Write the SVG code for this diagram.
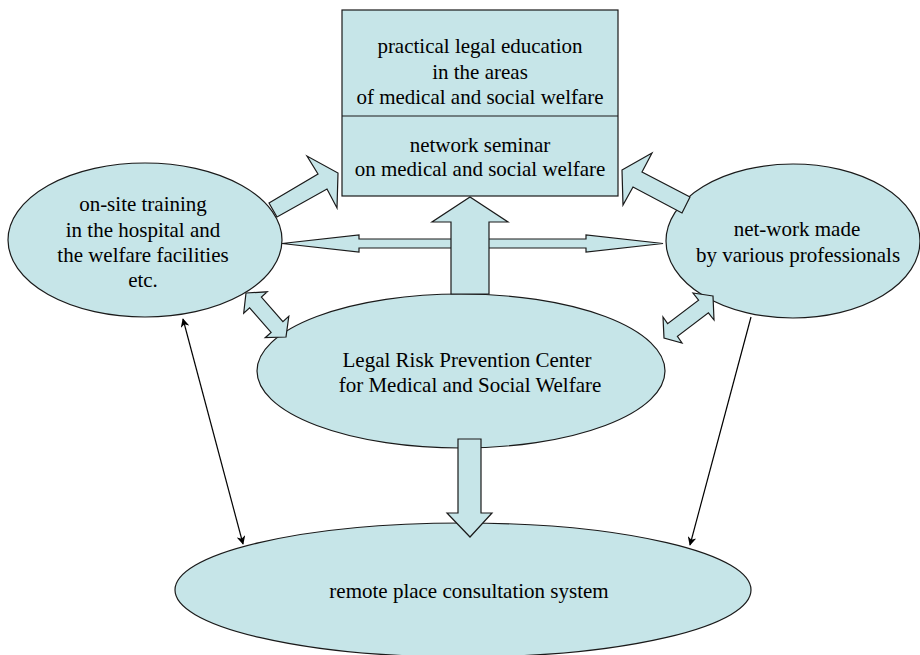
<svg xmlns="http://www.w3.org/2000/svg" width="920" height="655" viewBox="0 0 920 655">
<defs>
<style>
.shape{fill:#C6E5E8;stroke:#1a1a1a;stroke-width:1.2}
.txt{font-family:'Liberation Serif','Times New Roman','DejaVu Serif',serif;font-size:21px;fill:#000;text-anchor:middle}
.thin{fill:none;stroke:#000;stroke-width:1.2}
</style>
<marker id="ah" viewBox="0 0 10 10" refX="9" refY="5" markerWidth="9" markerHeight="9" markerUnits="userSpaceOnUse" orient="auto-start-reverse">
<path d="M0,0 L10,5 L0,10 L3,5 Z" fill="#000"/>
</marker>
</defs>
<rect width="920" height="655" fill="#fff"/>

<g id="node-bottom">
<ellipse class="shape" cx="463" cy="590" rx="288" ry="67"/>
<text class="txt" font-family="Liberation Serif, serif" x="469" y="598">remote place consultation system</text>
</g>

<g id="node-left">
<ellipse class="shape" cx="145" cy="240" rx="137" ry="77"/>
<text class="txt" font-family="Liberation Serif, serif" x="143" y="211">on-site training</text>
<text class="txt" font-family="Liberation Serif, serif" x="143" y="237">in the hospital and</text>
<text class="txt" font-family="Liberation Serif, serif" x="143" y="262">the welfare facilities</text>
<text class="txt" font-family="Liberation Serif, serif" x="143" y="287">etc.</text>
</g>

<g id="node-right">
<ellipse class="shape" cx="793" cy="241" rx="127" ry="77"/>
<text class="txt" font-family="Liberation Serif, serif" x="797" y="236">net-work made</text>
<text class="txt" font-family="Liberation Serif, serif" x="798" y="262">by various professionals</text>
</g>

<g id="node-center">
<ellipse class="shape" cx="461" cy="371" rx="204" ry="77"/>
<text class="txt" font-family="Liberation Serif, serif" x="467" y="367">Legal Risk Prevention Center</text>
<text class="txt" font-family="Liberation Serif, serif" x="470" y="392">for Medical and Social Welfare</text>
</g>

<g id="node-top">
<rect class="shape" x="342" y="10" width="276" height="186"/>
<line x1="342" y1="116" x2="618" y2="116" stroke="#1a1a1a" stroke-width="1.2"/>
<text class="txt" font-family="Liberation Serif, serif" x="480" y="53">practical legal education</text>
<text class="txt" font-family="Liberation Serif, serif" x="480" y="79">in the areas</text>
<text class="txt" font-family="Liberation Serif, serif" x="480" y="104">of medical and social welfare</text>
<text class="txt" font-family="Liberation Serif, serif" x="480" y="152">network seminar</text>
<text class="txt" font-family="Liberation Serif, serif" x="480" y="176">on medical and social welfare</text>
</g>

<g id="connectors">
<polygon class="shape" points="282,243.5 359,235 359,239 586,239 586,235 663,243.5 586,252 586,248 359,248 359,252"/>
<polygon class="shape" points="451,294 451,222 432,222 470,197 508,222 489,222 489,294"/>
<polygon class="shape" points="458,439 481,439 481,513 492,513 470,537 447,513 458,513"/>
<polygon class="shape" points="269,203 318,174 307,156 338,173 337,208 327,189 277,217"/>
<polygon class="shape" points="622,170 652,153 642,172 690,197 682,213 633,187 623,205"/>
<polygon class="shape" points="246,293 267.3,291.8 261.4,297.1 282.9,321.6 288.8,316.3 286,337 265.2,337.7 271.1,332.4 249.6,307.9 243.7,313.2"/>
<polygon class="shape" points="713,296 693,293 698.6,300.2 667.6,323.7 663,317 664,338 682,343 677.4,336.3 708.4,312.8 714,320"/>
<line class="thin" x1="183" y1="319" x2="243" y2="544" marker-start="url(#ah)" marker-end="url(#ah)"/>
<line class="thin" x1="751" y1="317" x2="690" y2="545" marker-end="url(#ah)"/>
</g>
</svg>
